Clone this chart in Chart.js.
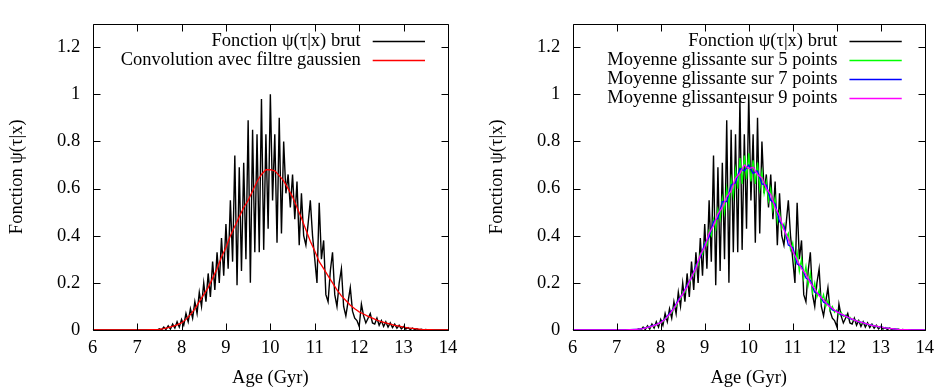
<!DOCTYPE html>
<html><head><meta charset="utf-8">
<script src="https://cdn.jsdelivr.net/npm/chart.js@4.4.1/dist/chart.umd.min.js"></script>
<style>
html,body{margin:0;padding:0;background:#fff;overflow:hidden;width:941px;height:389px}
#c1{position:absolute;left:0;top:0}
#c2{position:absolute;left:480px;top:0}
</style>
</head><body>
<canvas id="c1" width="480" height="389"></canvas>
<canvas id="c2" width="461" height="389"></canvas>
<script>
// ---- data ----
const ageFine = [6.0,7.45,
 7.5,7.55,7.6,7.65,7.7,7.75,7.8,7.85,7.9,7.95,
 8.0,8.05,8.1,8.15,8.2,8.25,8.3,8.35,8.4,8.45,8.5,8.55,8.6,8.65,8.7,8.75,8.8,8.85,8.9,8.95,
 9.0,9.05,9.1,9.15,9.2,9.25,9.3,9.35,9.4,9.45,9.5,9.55,9.6,9.65,9.7,9.75,9.8,9.85,9.9,9.95,
 10.0,10.05,10.1,10.15,10.2,10.25,10.3,10.35,10.4,10.45,10.5,10.55,10.6,10.65,10.7,10.75,10.8,10.85,10.9,10.95,
 11.0,11.05,11.1,11.15,11.2,11.25,11.3,11.35,11.4,11.45,11.5,11.55,11.6,11.65,11.7,11.75,11.8,11.85,11.9,11.95,
 12.0,12.05,12.1,12.15,12.2,12.25,12.3,12.35,12.4,12.45,12.5,12.55,12.6,12.65,12.7,12.75,12.8,12.85,12.9,12.95,
 13.0,13.05,13.1,13.15,13.2,13.25,13.3,13.35,13.4,13.45,13.5,
 13.55,14.0];

const psiBrut = [0,0,
 .005,0,.012,.002,.018,.004,.025,.008,.035,.012,
 .045,.02,.07,.035,.09,.05,.12,.07,.16,.10,.20,.12,.24,.14,.29,.17,.33,.20,.39,.23,
 .45,.26,.55,.29,.74,.19,.69,.25,.71,.30,.89,.20,.85,.33,.83,.33,.98,.34,.83,.43,
 1.0,.55,.83,.37,.90,.41,.80,.58,.66,.52,.66,.47,.63,.36,.58,.40,.36,.45,.55,.40,
 .30,.20,.54,.30,.38,.15,.12,.25,.33,.15,.10,.20,.26,.10,.06,.12,.18,.08,.05,.04,
 .015,.11,.06,.03,.05,.07,.03,.025,.05,.02,.04,.015,.035,.012,.03,.01,.025,.008,.02,.005,
 .015,.004,.01,.002,.008,.002,.005,0,.003,0,.002,
 0,0];

const moy5 = [0,0,
 .004,.004,.007,.008,.012,.012,.017,.017,.024,.025,
 .033,.035,.05,.052,.07,.073,.097,.10,.128,.13,.16,.16,.19,.195,.23,.235,.275,.275,.325,.32,
 .37,.36,.42,.40,.47,.43,.51,.47,.56,.50,.60,.53,.64,.57,.68,.60,.73,.62,.74,.64,
 .75,.63,.72,.62,.71,.60,.67,.58,.63,.55,.60,.51,.56,.46,.50,.43,.45,.39,.41,.34,
 .37,.29,.33,.25,.30,.22,.27,.19,.24,.16,.20,.14,.17,.12,.15,.10,.125,.085,.10,.075,
 .085,.065,.075,.058,.063,.05,.054,.043,.045,.036,.038,.03,.032,.025,.027,.02,.022,.017,.017,.013,
 .013,.01,.01,.008,.007,.006,.005,.004,.003,.002,.002,
 0,0];

const ageCoarse = [
 6.0,6.1,6.2,6.3,6.4,6.5,6.6,6.7,6.8,6.9,
 7.0,7.1,7.2,7.3,7.4,7.5,7.6,7.7,7.8,7.9,
 8.0,8.1,8.2,8.3,8.4,8.5,8.6,8.7,8.8,8.9,
 9.0,9.1,9.2,9.3,9.4,9.5,9.6,9.7,9.8,9.9,
 10.0,10.1,10.2,10.3,10.4,10.5,10.6,10.7,10.8,10.9,
 11.0,11.1,11.2,11.3,11.4,11.5,11.6,11.7,11.8,11.9,
 12.0,12.1,12.2,12.3,12.4,12.5,12.6,12.7,12.8,12.9,
 13.0,13.1,13.2,13.3,13.4,13.5,13.6,13.7,13.8,13.9,
 14.0];

const gauss = [
 0,0,0,0,0,0,0,0,0,0,
 0,0,0,.001,.002,.003,.006,.010,.015,.022,
 .03,.045,.065,.09,.12,.15,.18,.22,.26,.31,
 .35,.40,.44,.48,.52,.55,.59,.63,.66,.68,
 .68,.675,.655,.633,.60,.565,.52,.475,.425,.377,
 .335,.29,.26,.23,.20,.17,.145,.125,.105,.09,
 .077,.068,.058,.05,.042,.035,.03,.025,.02,.016,
 .012,.009,.007,.005,.003,.002,.001,0,0,0,
 0];

const moy7 = [
 0,0,0,0,0,0,0,0,0,0,
 0,0,0,.001,.003,.004,.007,.011,.017,.023,
 .033,.047,.07,.093,.127,.153,.19,.222,.272,.31,
 .365,.395,.46,.475,.545,.545,.615,.625,.685,.675,
 .70,.665,.675,.62,.615,.55,.535,.46,.44,.36,
 .35,.28,.27,.22,.21,.16,.152,.118,.11,.085,
 .08,.065,.06,.048,.043,.034,.031,.024,.021,.015,
 .013,.009,.007,.005,.003,.002,.001,0,0,0,
 0];

const moy9 = [
 0,0,0,0,0,0,0,0,0,0,
 0,0,0,.001,.002,.004,.006,.011,.015,.023,
 .031,.046,.066,.092,.122,.153,.183,.225,.262,.318,
 .352,.41,.442,.492,.52,.565,.59,.645,.665,.70,
 .685,.69,.66,.645,.60,.575,.52,.485,.425,.385,
 .335,.297,.26,.236,.20,.175,.145,.128,.105,.092,
 .077,.069,.058,.051,.042,.036,.03,.025,.02,.016,
 .012,.009,.007,.005,.003,.002,.001,0,0,0,
 0];

const xTicks = [6,7,8,9,10,11,12,13,14];
const yTicks = [0,0.2,0.4,0.6,0.8,1,1.2];

const labelBrut = 'Fonction \u03c8(\u03c4|x) brut';
const labelGauss = 'Convolution avec filtre gaussien';
const label5 = 'Moyenne glissante sur 5 points';
const label7 = 'Moyenne glissante sur 7 points';
const label9 = 'Moyenne glissante sur 9 points';
const yTitle = 'Fonction \u03c8(\u03c4|x)';
const xTitle = 'Age (Gyr)';

// ---- helpers ----
const FONT = '"Liberation Serif", "Times New Roman", serif';
const FS = 18.5;
const pts = (xs, ys) => xs.map((x, i) => ({x: x, y: ys[i]}));

const gnuplotFrame = {
  id: 'gnuplotFrame',
  beforeDatasetsDraw(chart) {
    const {ctx, chartArea: a} = chart;
    ctx.save();
    ctx.font = FS + 'px ' + FONT;
    ctx.textAlign = 'right';
    ctx.textBaseline = 'middle';
    chart.data.datasets.forEach((ds, i) => {
      const yy = Math.round(a.top + 17.7 + i * 18.8) + 0.5;
      ctx.fillStyle = '#000';
      ctx.fillText(ds.label, a.right - 87.3, yy);
      ctx.strokeStyle = ds.borderColor;
      ctx.lineWidth = ds.borderWidth;
      ctx.beginPath();
      ctx.moveTo(a.right - 75.3, yy);
      ctx.lineTo(a.right - 23, yy);
      ctx.stroke();
    });
    ctx.restore();
  },
  afterDatasetsDraw(chart) {
    const {ctx, chartArea: a, scales} = chart;
    const x = scales.x, y = scales.y;
    ctx.save();
    ctx.strokeStyle = '#000';
    ctx.lineWidth = 1;
    const L = Math.round(a.left) + 0.5, R = Math.round(a.right) + 0.5;
    const T = Math.round(a.top) + 0.5, B = Math.round(a.bottom) + 0.5;
    ctx.beginPath();
    ctx.rect(L, T, R - L, B - T);
    const tl = 7;
    x.ticks.forEach(t => {
      const px = Math.round(x.getPixelForValue(t.value)) + 0.5;
      ctx.moveTo(px, B); ctx.lineTo(px, B - tl);
      ctx.moveTo(px, T); ctx.lineTo(px, T + tl);
    });
    y.ticks.forEach(t => {
      const py = Math.round(y.getPixelForValue(t.value)) + 0.5;
      ctx.moveTo(L, py); ctx.lineTo(L + tl, py);
      ctx.moveTo(R, py); ctx.lineTo(R - tl, py);
    });
    ctx.stroke();
    ctx.restore();
  }
};

function makeOptions(padRight) {
  return {
    responsive: false,
    animation: false,
    devicePixelRatio: 1,
    layout: {padding: {left: 0, right: padRight, top: 9, bottom: 0}},
    plugins: {legend: {display: false}, tooltip: {enabled: false}},
    elements: {point: {radius: 0}, line: {tension: 0}},
    scales: {
      x: {
        type: 'linear', min: 6, max: 14,
        afterBuildTicks: s => { s.ticks = xTicks.map(v => ({value: v})); },
        afterFit: s => { s.height = 59; },
        grid: {display: false, drawTicks: false},
        border: {display: false},
        ticks: {color: '#000', font: {family: FONT, size: FS}, padding: 7, maxRotation: 0, autoSkip: false,
                callback: v => String(v)},
        title: {display: true, text: xTitle, color: '#000', font: {family: FONT, size: FS}, padding: {top: 0, bottom: 0}}
      },
      y: {
        type: 'linear', min: 0, max: 1.3,
        afterBuildTicks: s => { s.ticks = yTicks.map(v => ({value: v})); },
        afterFit: s => { s.width = 92.7; },
        grid: {display: false, drawTicks: false},
        border: {display: false},
        ticks: {color: '#000', font: {family: FONT, size: FS}, padding: 12.5, autoSkip: false,
                callback: v => String(v)},
        title: {display: true, text: yTitle, color: '#000', font: {family: FONT, size: FS}, padding: {top: 6, bottom: 0}}
      }
    }
  };
}

new Chart(document.getElementById('c1'), {
  type: 'line',
  data: {datasets: [
    {label: labelBrut, data: pts(ageFine, psiBrut), borderColor: '#000000', borderWidth: 1.4, order: 2},
    {label: labelGauss, data: pts(ageCoarse, gauss), borderColor: '#ff0000', borderWidth: 1.3, order: 1}
  ]},
  options: makeOptions(32),
  plugins: [gnuplotFrame]
});

new Chart(document.getElementById('c2'), {
  type: 'line',
  data: {datasets: [
    {label: labelBrut, data: pts(ageFine, psiBrut), borderColor: '#000000', borderWidth: 1.4, order: 4},
    {label: label5, data: pts(ageFine, moy5), borderColor: '#00ff00', borderWidth: 1.3, order: 3},
    {label: label7, data: pts(ageCoarse, moy7), borderColor: '#0000ff', borderWidth: 1.3, order: 2},
    {label: label9, data: pts(ageCoarse, moy9), borderColor: '#ff00ff', borderWidth: 1.3, order: 1}
  ]},
  options: makeOptions(13.3),
  plugins: [gnuplotFrame]
});
</script>
</body></html>
